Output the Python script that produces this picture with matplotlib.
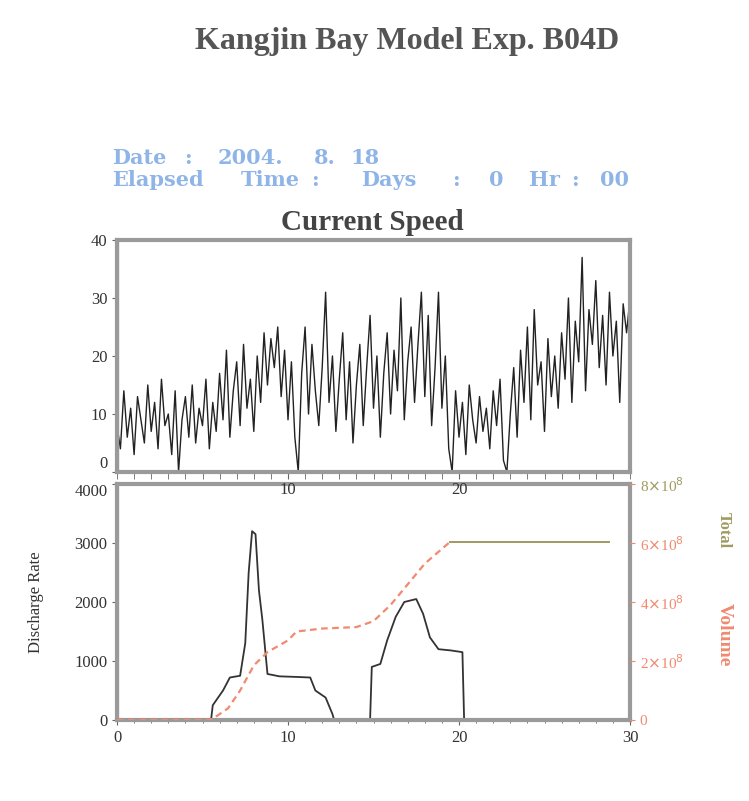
import matplotlib
matplotlib.use("Agg")
import matplotlib.pyplot as plt
import numpy as np
from matplotlib.ticker import MultipleLocator

plt.rcParams['font.family'] = ['Liberation Serif', 'DejaVu Serif']

# ---------------- data ----------------
title = "Kangjin Bay Model Exp. B04D"
date_parts = ["Date", ":", "2004.", "8.", "18"]
elapsed_parts = ["Elapsed", "Time", ":", "Days", ":", "0", "Hr", ":", "00"]
panel_title = "Current Speed"

# current speed (cm/s), every 0.2 day from day 0 to day 30
speed = [8, 4, 14, 6, 11, 3, 13, 9, 5, 15,
         7, 12, 4, 16, 8, 10, 3, 14, 0, 9,
         13, 6, 15, 5, 11, 8, 16, 4, 12, 7,
         17, 9, 21, 6, 14, 19, 8, 22, 11, 16,
         7, 20, 12, 24, 15, 23, 18, 25, 13, 21,
         9, 19, 6, 0, 17, 25, 10, 22, 14, 8,
         18, 31, 12, 20, 7, 16, 24, 9, 19, 5,
         15, 22, 8, 18, 27, 11, 20, 6, 17, 24,
         10, 21, 14, 30, 9, 19, 25, 12, 22, 31,
         13, 27, 8, 18, 31, 11, 20, 4, 0, 14,
         6, 12, 3, 15, 9, 5, 13, 7, 11, 4,
         14, 8, 16, 2, 0, 10, 18, 6, 21, 12,
         25, 9, 28, 15, 19, 7, 23, 13, 20, 11,
         24, 16, 30, 12, 26, 19, 37, 14, 28, 22,
         33, 18, 27, 15, 31, 20, 26, 12, 29, 24, 30]
speed_days = [0.2 * i for i in range(len(speed))]

# discharge rate
q_days = [0, 5.5, 5.6, 6.2, 6.6, 7.2, 7.5, 7.7, 7.9, 8.1, 8.3, 8.5, 8.8, 9.5,
          10.5, 11.3, 11.6, 12.2, 12.6, 12.7, 14.8, 14.9, 15.4, 15.8, 16.3,
          16.8, 17.5, 17.9, 18.3, 18.8, 19.5, 20.2, 20.3, 30]
q_vals = [0, 0, 250, 500, 720, 750, 1300, 2500, 3200, 3150, 2200, 1700, 780,
          740, 730, 720, 500, 380, 100, 0, 0, 900, 950, 1350, 1750, 2000, 2050,
          1800, 1400, 1200, 1180, 1150, 0, 0]

# cumulative volume (x 1e8)
cum_days = [0, 5.5, 6.5, 7.2, 8.0, 8.8, 10.0, 10.5, 12.0, 14.0, 15.0, 16.0,
            17.0, 18.0, 19.0, 19.5]
cum_vals = [0, 0, 0.4, 1.0, 1.85, 2.3, 2.7, 3.0, 3.1, 3.15, 3.35, 3.9,
            4.6, 5.3, 5.8, 6.05]
flat_days = [19.5, 28.8]
flat_vals = [6.05, 6.05]

top_xticks = [10, 20]
bot_xticks = [0, 10, 20, 30]
speed_yticks = [0, 10, 20, 30, 40]
q_yticks = [0, 1000, 2000, 3000, 4000]
cum_yticks = [0, 2, 4, 6, 8]
cum_ylabels = [r"0", r"2$\times$10$^8$", r"4$\times$10$^8$", r"6$\times$10$^8$", r"8$\times$10$^8$"]

# ---------------- figure ----------------
W, H = 749, 801
fig = plt.figure(figsize=(W / 100, H / 100), dpi=100)
frame_c = "#9a9a9a"
blue = "#8fb4e8"
orange = "#f08a70"
olive = "#a09a60"

fig.text(407 / W, 1 - 42 / H, title, ha="center", va="center", fontsize=23,
         fontweight="bold", color="#555555")
for xp, part in zip([112, 184, 218, 314, 350], date_parts):
    fig.text(xp / W, 1 - 158 / H, part, ha="left", va="center", fontsize=15,
             fontweight="bold", color=blue, family="DejaVu Serif")
for xp, part in zip([112, 241, 311, 361, 452, 489, 529, 571, 600], elapsed_parts):
    fig.text(xp / W, 1 - 180 / H, part, ha="left", va="center", fontsize=15,
             fontweight="bold", color=blue, family="DejaVu Serif")
fig.text(372 / W, 1 - 223 / H, panel_title, ha="center", va="center", fontsize=21,
         fontweight="bold", color="#444444")

L, R = 117 / W, 630 / W
ax1 = fig.add_axes([L, 1 - 472 / H, R - L, (472 - 240) / H])
ax2 = fig.add_axes([L, 1 - 720 / H, R - L, (720 - 484) / H])
ax2.set_facecolor("none")
ax1.set_zorder(3)
ax1.set_facecolor("none")

for ax in (ax1, ax2):
    for s in ax.spines.values():
        s.set_color(frame_c)
        s.set_linewidth(3)
    ax.set_xlim(0, 30)
    ax.xaxis.set_minor_locator(MultipleLocator(1))
    ax.tick_params(which="both", colors="#666666", labelcolor="#333333", labelsize=12)

# top panel
ax1.plot(speed_days, speed, color="#222222", lw=1.0)
ax1.set_ylim(0, 40)
ax1.set_yticks(speed_yticks)
ax1.set_xticks(top_xticks)
ax1.tick_params(axis="x", which="both", direction="out", length=5, pad=2)
ax1.axvline(0, color="#6a6ad0", lw=3)
ax1.get_yticklabels()[0].set_va("bottom")

# bottom panel
ax2.plot(q_days, q_vals, color="#333333", lw=1.3)
ax2.set_ylim(0, 4000)
ax2.set_yticks(q_yticks)
ax2.set_xticks(bot_xticks)
ax2.set_ylabel("Discharge Rate", fontsize=12, color="#333333", labelpad=22)
ax2.axvline(0, color="#9090c8", lw=3)
ax2.get_yticklabels()[-1].set_va("top")

ax3 = ax2.twinx()
ax3.plot(cum_days, cum_vals, color=orange, lw=1.6, ls=(0, (3, 2)))
ax3.plot(flat_days, flat_vals, color=olive, lw=1.4)
ax3.set_ylim(0, 8)
ax3.set_yticks(cum_yticks)
for s in ax3.spines.values():
    s.set_visible(False)
ax3.tick_params(axis="y", colors=orange, labelsize=11)
ax3.set_yticklabels(cum_ylabels)
for i, lab in enumerate(ax3.get_yticklabels()):
    lab.set_color(olive if i == len(cum_yticks) - 1 else orange)

fig.text(724 / W, 1 - 530 / H, "Total", rotation=-90, ha="center", va="center",
         fontsize=12, fontweight="bold", color=olive)
fig.text(724 / W, 1 - 635 / H, "Volume", rotation=-90, ha="center", va="center",
         fontsize=14, fontweight="bold", color=orange)

fig.savefig("out.png", dpi=100)
